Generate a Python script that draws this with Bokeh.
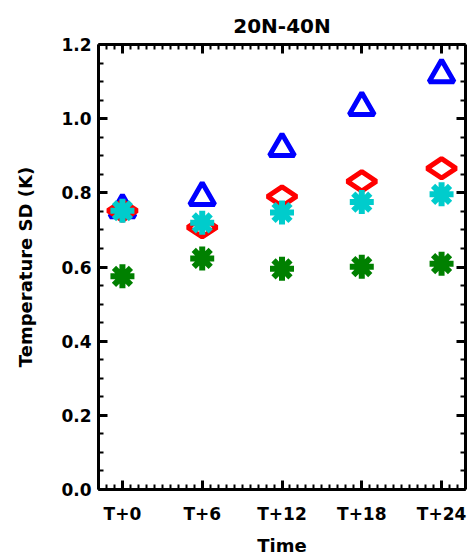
import numpy as np
from bokeh.plotting import figure
from bokeh.models import FixedTicker, LinearAxis, Range1d
from bokeh.embed import file_html
from bokeh.resources import INLINE

times = ["T+0", "T+6", "T+12", "T+18", "T+24"]
blue_tri = [0.755, 0.788, 0.920, 1.031, 1.119]
red_dia = [0.752, 0.707, 0.790, 0.831, 0.866]
cyan_ast = [0.752, 0.719, 0.747, 0.775, 0.796]
green_ast = [0.575, 0.623, 0.595, 0.601, 0.609]
y_ticks = [0.0, 0.2, 0.4, 0.6, 0.8, 1.0, 1.2]

x = list(range(len(times)))
FONT = "DejaVu Sans"

p = figure(width=469, height=559, x_range=Range1d(-0.3, 4.3), y_range=Range1d(0, 1.2),
           output_backend="svg", toolbar_location=None, title="20N-40N",
           min_border_left=98, min_border_right=4, min_border_top=44, min_border_bottom=70)
p.title.align = "center"
p.title.text_font = FONT
p.title.text_font_size = "20px"
p.title.text_font_style = "bold"
p.title.text_color = "black"
p.title.standoff = 14
p.outline_line_color = None
p.grid.visible = False
p.background_fill_color = "white"
p.border_fill_color = "white"

xminor = list(np.arange(-0.3, 4.31, 0.1))
yminor = list(np.arange(0, 1.201, 0.05))

def style(ax):
    ax.axis_line_width = 3
    ax.axis_line_color = "black"
    ax.major_tick_in = 9
    ax.major_tick_out = 0
    ax.minor_tick_in = 5
    ax.minor_tick_out = 0
    ax.major_tick_line_width = 3
    ax.minor_tick_line_width = 2
    ax.major_tick_line_color = "black"
    ax.minor_tick_line_color = "black"
    ax.major_label_text_font = FONT
    ax.major_label_text_font_style = "bold"
    ax.major_label_text_font_size = "17px"
    ax.major_label_text_color = "black"
    ax.axis_label_text_font = FONT
    ax.axis_label_text_font_style = "bold"
    ax.axis_label_text_font_size = "18px"
    ax.axis_label_text_color = "black"

p.xaxis.ticker = FixedTicker(ticks=x, minor_ticks=xminor)
p.xaxis.major_label_overrides = {i: t for i, t in zip(x, times)}
p.xaxis.axis_label = "Time"
p.yaxis.ticker = FixedTicker(ticks=y_ticks, minor_ticks=yminor)
p.yaxis.major_label_overrides = {v: f"{v:.1f}" for v in y_ticks}
p.yaxis.axis_label = "Temperature SD (K)"
style(p.xaxis[0])
style(p.yaxis[0])
p.xaxis.major_label_standoff = 14
p.yaxis.major_label_standoff = 7
p.xaxis.axis_label_standoff = 8
p.yaxis.axis_label_standoff = 22

top = LinearAxis(ticker=FixedTicker(ticks=x, minor_ticks=xminor))
style(top)
top.major_label_overrides = {i: "" for i in x}
p.add_layout(top, "above")
right = LinearAxis(ticker=FixedTicker(ticks=y_ticks, minor_ticks=yminor))
style(right)
right.major_label_overrides = {v: "" for v in y_ticks}
p.add_layout(right, "right")

p.scatter(x, blue_tri, marker="triangle", size=25, fill_color=None, line_color="#0000ff", line_width=5)
p.scatter(x, red_dia, marker="diamond", angle=np.pi / 2, size=29, fill_color=None, line_color="#ff0000", line_width=5)
p.scatter(x, cyan_ast, marker="asterisk", size=24, line_color="#00cccc", line_width=6)
p.scatter(x, green_ast, marker="asterisk", size=24, line_color="#008000", line_width=6)

open("out.html", "w").write(file_html(p, INLINE))
